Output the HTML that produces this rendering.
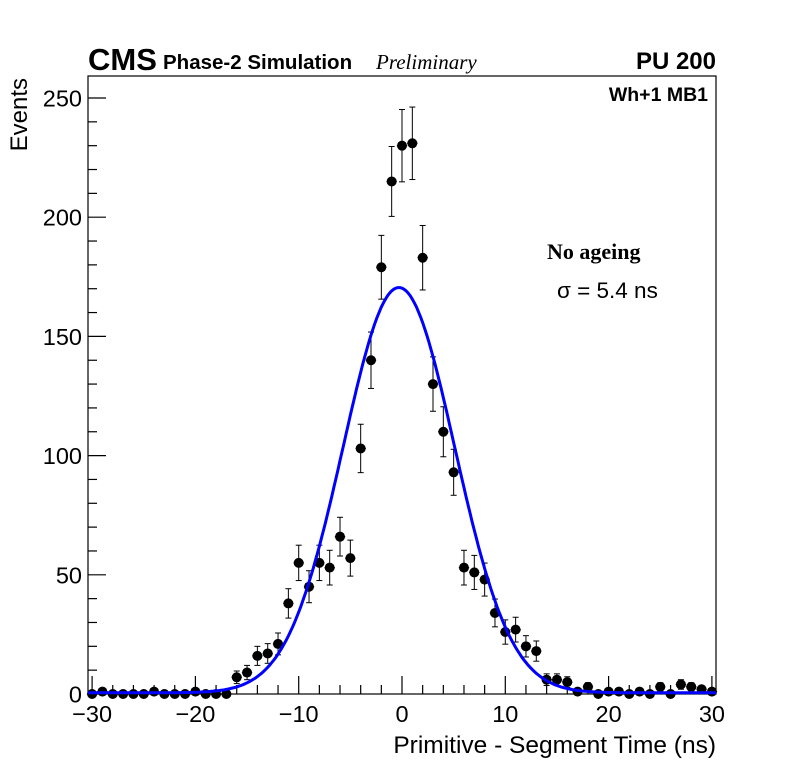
<!DOCTYPE html>
<html><head><meta charset="utf-8"><style>
body{margin:0;background:#fff;}
svg text{font-family:"Liberation Sans",sans-serif;}
</style></head><body>
<svg id="c" width="796" height="772" xmlns="http://www.w3.org/2000/svg">
<rect x="0" y="0" width="796" height="772" fill="#fff"/>
<rect x="88" y="76" width="628" height="618" fill="none" stroke="#000" stroke-width="1.2"/>
<g id="ticks"></g>
<g id="marks"></g>
<text x="88" y="70" font-size="31" font-weight="bold">CMS</text>
<text x="163" y="69" font-size="20.5" font-weight="bold">Phase-2 Simulation</text>
<text x="376" y="69" font-size="21" font-style="italic" style="font-family:'Liberation Serif',serif">Preliminary</text>
<text x="716" y="69" font-size="24" font-weight="bold" text-anchor="end">PU 200</text>
<text x="708" y="101" font-size="19.5" font-weight="bold" text-anchor="end">Wh+1 MB1</text>
<text x="547" y="259" font-size="22" font-weight="bold" style="font-family:'Liberation Serif',serif">No ageing</text>
<text x="557" y="298" font-size="22.5">σ = 5.4 ns</text>
<text x="716" y="753" font-size="24.5" text-anchor="end">Primitive - Segment Time (ns)</text>
<text transform="translate(27,78) rotate(-90)" font-size="24" text-anchor="end">Events</text>
</svg>
<script>
const binCenters=[-30,-29,-28,-27,-26,-25,-24,-23,-22,-21,-20,-19,-18,-17,-16,-15,-14,-13,-12,-11,-10,-9,-8,-7,-6,-5,-4,-3,-2,-1,0,1,2,3,4,5,6,7,8,9,10,11,12,13,14,15,16,17,18,19,20,21,22,23,24,25,26,27,28,29,30];
const counts=[0,1,0,0,0,0,1,0,0,0,1,0,0,0,7,9,16,17,21,38,55,45,55,53,66,57,103,140,179,215,230,231,183,130,110,93,53,51,48,34,26,27,20,18,6,6,5,1,3,0,1,1,0,1,0,3,0,4,3,2,1];
const fitParams=[170,-0.3,5.4];
const xTicks=[-30,-20,-10,0,10,20,30];
const yTicks=[0,50,100,150,200,250];
const NS='http://www.w3.org/2000/svg';
const X=v=>402+10.33*v, Y=v=>694-2.384*v;
function mk(t,a,p){const e=document.createElementNS(NS,t);for(const k in a)e.setAttribute(k,a[k]);p.appendChild(e);return e;}
const tg=document.getElementById('ticks'), mg=document.getElementById('marks');
for(let v=-30;v<=30;v+=2){const L=v%10===0?18:9;const e=mk('line',{x1:X(v),x2:X(v),y1:694,y2:694-L,stroke:'#000','stroke-width':1.2},tg);

}
for(let v=0;v<=250;v+=10){const L=v%50===0?18:9;const e=mk('line',{x1:88,x2:88+L,y1:Y(v),y2:Y(v),stroke:'#000','stroke-width':1.2},tg);

}
xTicks.forEach(v=>{const t=mk('text',{x:X(v),y:722,'font-size':23.5,'text-anchor':'middle'},tg);t.textContent=v<0?'\u2212'+(-v):String(v);

});
yTicks.forEach(v=>{const t=mk('text',{x:82,y:Y(v)+8.5,'font-size':23.5,'text-anchor':'end'},tg);t.textContent=String(v);

});
binCenters.forEach((c,i)=>{const n=counts[i];const g=mk('g',{},mg);


const e=Math.sqrt(n);
if(n>0){mk('line',{x1:X(c),x2:X(c),y1:Y(n+e),y2:Y(Math.max(0,n-e)),stroke:'#000','stroke-width':1},g);
mk('line',{x1:X(c)-3,x2:X(c)+3,y1:Y(n+e),y2:Y(n+e),stroke:'#000','stroke-width':1},g);
if(n-e>0)mk('line',{x1:X(c)-3,x2:X(c)+3,y1:Y(n-e),y2:Y(n-e),stroke:'#000','stroke-width':1},g);}
mk('line',{x1:X(c-0.5),x2:X(c+0.5),y1:Y(n),y2:Y(n),stroke:'#000','stroke-width':1.2},g);
mk('circle',{cx:X(c),cy:Y(n),r:5,fill:'#000'},g);});
let d='';for(let x=-30.4;x<=30.4;x+=0.2){const y=fitParams[0]*Math.exp(-0.5*Math.pow((x-fitParams[1])/fitParams[2],2))+0.5;d+=(d?'L':'M')+X(x).toFixed(1)+','+Y(y).toFixed(1);}
const p=mk('path',{d:d,fill:'none',stroke:'#0000ff','stroke-width':3},mg);


</script>
</body></html>
